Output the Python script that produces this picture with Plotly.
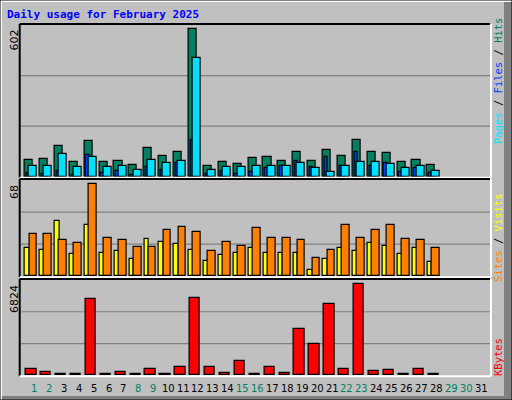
import plotly.graph_objects as go

days = list(range(1, 32))
hits = [68,72,125,60,146,60,64,48,117,85,101,602,44,60,52,76,80,64,101,64,109,85,150,101,97,60,68,48,None,None,None]
files = [15,11,23,7,88,15,23,7,40,27,56,150,11,23,11,19,36,44,64,40,80,44,101,44,56,19,36,15,None,None,None]
pages = [44,44,93,40,80,40,44,27,68,56,64,485,27,40,40,44,44,44,56,36,19,44,60,60,52,36,44,23,None,None,None]
visits = [20.7,19.2,40.7,16.3,37.7,17,18.5,12.6,27.3,25.1,23.7,19.2,11.1,15.5,17,20.7,17,17,17,4.4,12.6,20.7,18.5,24.4,22.2,16.3,20.7,10.3,None,None,None]
sites = [31,31,26.6,24.4,68,28.1,26.6,21.4,21.4,34,36.2,32.5,18.5,25.1,22.2,35.5,28.1,28.1,26.6,13.3,19.2,37.7,28.1,34,37.7,27.3,26.6,20.7,None,None,None]
kbytes = [450,225,110,110,5700,110,225,110,450,110,600,5775,600,150,1050,110,600,150,3450,2325,5325,450,6824,300,375,110,450,110,None,None,None]
weekend = [1,2,8,9,15,16,22,23,29,30]
max_labels = ["602", "68", "6824"]

W, H = 512, 400
def px(x): return x / W
def py(y): return 1 - y / H

panels = [(25, 176.7), (180, 276.3), (280, 375.3)]
ymax = [602 * 151.7 / 147.4, 68 * 96.3 / 92, 6824 * 95.3 / 91]
xl, xr = 20.7, 490
xrange = [1 + (xl - 34) / 14.9, 1 + (xr - 34) / 14.9]

C_HITS, C_FILES, C_PAGES = "#008060", "#0040FF", "#00E0FF"
C_VIS, C_SITES, C_KB = "#FFFF00", "#FF8000", "#FF0000"

fig = go.Figure()
def bar(y, color, off, wid, ax):
    fig.add_trace(go.Bar(x=days, y=y, offset=off, width=wid, marker=dict(color=color, line=dict(color="black", width=1.2)),
                         xaxis="x" + ("" if ax == 1 else str(ax)), yaxis="y" + ("" if ax == 1 else str(ax)), showlegend=False))

bar(hits, C_HITS, -0.62, 0.54, 1)
bar(files, C_FILES, -0.5, 0.22, 1)
bar(pages, C_PAGES, -0.34, 0.54, 1)
bar(visits, C_VIS, -0.6, 0.32, 2)
bar(sites, C_SITES, -0.32, 0.52, 2)
bar(kbytes, C_KB, -0.54, 0.69, 3)

layout = dict(width=W, height=H, margin=dict(l=0, r=0, t=0, b=0), paper_bgcolor="#C0C0C0",
              plot_bgcolor="#C0C0C0", barmode="overlay", bargap=0)
shapes, annotations = [], []
for i, (t, b) in enumerate(panels):
    n = "" if i == 0 else str(i + 1)
    layout["xaxis" + n] = dict(domain=[px(xl), px(xr)], range=xrange, showticklabels=False, showgrid=False,
                               zeroline=False, ticks="", anchor="y" + n, fixedrange=True)
    layout["yaxis" + n] = dict(domain=[py(b), py(t)], range=[0, ymax[i]], showticklabels=False, showgrid=False,
                               zeroline=False, ticks="", anchor="x" + n, fixedrange=True)
    for f in (1/3, 2/3):
        shapes.append(dict(type="line", xref="x" + n + " domain", yref="y" + n + " domain", x0=0, x1=1, y0=f, y1=f,
                           line=dict(color="#808080", width=1.2), layer="below"))
    shapes.append(dict(type="line", xref="paper", yref="paper", x0=px(xl - 1), x1=px(xr), y0=py(t - 1), y1=py(t - 1), line=dict(color="black", width=2)))
    shapes.append(dict(type="line", xref="paper", yref="paper", x0=px(xl - 1), x1=px(xl - 1), y0=py(t - 1), y1=py(b + 1), line=dict(color="black", width=2)))
    shapes.append(dict(type="line", xref="paper", yref="paper", x0=px(xl - 1), x1=px(xr + 1), y0=py(b + 1), y1=py(b + 1), line=dict(color="white", width=2)))
    shapes.append(dict(type="line", xref="paper", yref="paper", x0=px(xr + 1), x1=px(xr + 1), y0=py(t - 1), y1=py(b + 1), line=dict(color="white", width=2)))
    annotations.append(dict(text=max_labels[i], xref="paper", yref="paper", x=px(14), y=py(t + 3), xanchor="center",
                            yanchor="top", textangle=-90, showarrow=False,
                            font=dict(family="DejaVu Sans", size=11, color="black")))

sep = '<span style="color:black"> / </span>'
right = [
    (f'<span style="color:{C_PAGES}">Pages</span>{sep}<span style="color:{C_FILES}">Files</span>{sep}<span style="color:{C_HITS}">Hits</span>', 81),
    (f'<span style="color:{C_SITES}">Sites</span>{sep}<span style="color:{C_VIS}">Visits</span>', 238),
    (f'<span style="color:{C_KB}">KBytes</span>', 357),
]
for txt, yc in right:
    annotations.append(dict(text=txt, xref="paper", yref="paper", x=px(498), y=py(yc), xanchor="center", yanchor="middle",
                            textangle=-90, showarrow=False, font=dict(family="DejaVu Sans Mono", size=10.5)))

for d in days:
    annotations.append(dict(text=str(d), x=d, xref="x3", yref="paper", y=py(388), xanchor="center", yanchor="middle",
                            showarrow=False, font=dict(family="DejaVu Sans", size=10,
                                                       color="#008060" if d in weekend else "black")))

annotations.append(dict(text="<b>Daily usage for February 2025</b>", xref="paper", yref="paper", x=px(5), y=py(15),
                        xanchor="left", yanchor="middle", showarrow=False,
                        font=dict(family="DejaVu Sans Mono", size=11, color="#0000FF")))

shapes += [
    dict(type="rect", xref="paper", yref="paper", x0=px(504), x1=1, y0=0, y1=1, fillcolor="#808080", line=dict(width=0), layer="below"),
    dict(type="rect", xref="paper", yref="paper", x0=0, x1=1, y0=0, y1=py(396), fillcolor="#808080", line=dict(width=0), layer="below"),
    dict(type="line", xref="paper", yref="paper", x0=px(1), x1=px(1), y0=0, y1=1, line=dict(color="white", width=2)),
    dict(type="line", xref="paper", yref="paper", x0=0, x1=1, y0=py(1), y1=py(1), line=dict(color="white", width=2)),
    dict(type="rect", xref="paper", yref="paper", x0=0, x1=1, y0=0, y1=1, line=dict(color="black", width=1)),
]
layout["shapes"] = shapes
layout["annotations"] = annotations
fig.update_layout(**layout)
fig.write_html("out.html", config={"displayModeBar": False},
               post_script="document.body.style.margin='0';document.body.style.overflow='hidden';")
